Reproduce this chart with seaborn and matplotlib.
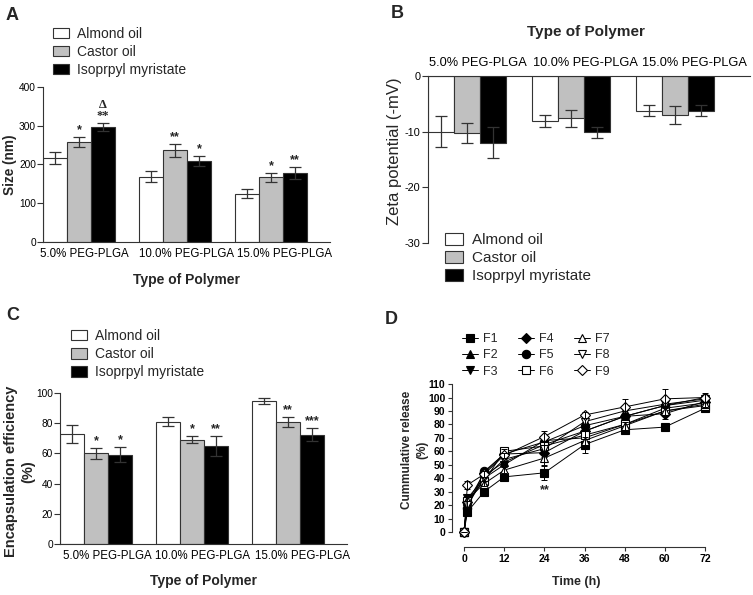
import numpy as np
import pandas as pd
import seaborn as sns
import matplotlib
matplotlib.use('Agg')
from matplotlib import pyplot as plt
from matplotlib.patches import Patch

sns.set_style('ticks')
plt.rcParams['font.family'] = ['Liberation Sans', 'DejaVu Sans']
plt.rcParams['axes.unicode_minus'] = False
plt.rcParams['axes.edgecolor'] = '#333333'
plt.rcParams['xtick.color'] = '#333333'
plt.rcParams['ytick.color'] = '#333333'
plt.rcParams['xtick.labelcolor'] = 'black'
plt.rcParams['ytick.labelcolor'] = 'black'

# ---------------- data ----------------
groups = ['5.0% PEG-PLGA', '10.0% PEG-PLGA', '15.0% PEG-PLGA']
oils = ['Almond oil', 'Castor oil', 'Isoprpyl myristate']
bar_colors = ['#ffffff', '#c0c0c0', '#000000']

# A: particle size (nm)
size_almond = [217, 168, 125]
size_castor = [258, 237, 167]
size_ipm = [297, 208, 178]
size_almond_sd = [15, 14, 11]
size_castor_sd = [14, 17, 11]
size_ipm_sd = [11, 13, 15]
size_marks = [['', '', ''], ['*', '**', '*'], ['\u0394\n**', '*', '**']]

# B: zeta potential (-mV)
zeta_almond = [-10.0, -8.1, -6.2]
zeta_castor = [-10.2, -7.6, -7.0]
zeta_ipm = [-12.0, -10.1, -6.2]
zeta_almond_sd = [2.8, 1.1, 1.0]
zeta_castor_sd = [1.8, 1.5, 1.6]
zeta_ipm_sd = [2.8, 1.0, 1.0]

# C: encapsulation efficiency (%)
ee_almond = [73, 81, 94.5]
ee_castor = [60, 69, 81]
ee_ipm = [59, 65, 72.5]
ee_almond_sd = [6, 3, 2]
ee_castor_sd = [3.8, 2.4, 3.4]
ee_ipm_sd = [5, 6.4, 4.6]
ee_marks = [['', '', ''], ['*', '*', '**'], ['*', '**', '***']]

# D: cumulative release (%)
time_h = [0, 1, 6, 12, 24, 36, 48, 60, 72]
F1 = [0, 15, 30, 41, 44, 65, 76, 78, 92]
F2 = [0, 20, 42, 52, 65, 75, 86, 94, 98]
F3 = [0, 25, 40, 50, 68, 70, 80, 92, 96]
F4 = [0, 22, 44, 58, 59, 75, 86, 88, 97]
F5 = [0, 18, 45, 58, 67, 79, 86, 94, 100]
F6 = [0, 23, 38, 60, 64, 72, 80, 90, 94]
F7 = [0, 24, 36, 46, 55, 68, 79, 90, 95]
F8 = [0, 20, 40, 54, 62, 82, 90, 95, 99]
F9 = [0, 35, 43, 57, 71, 87, 93, 99, 100]
F1_sd = [0, 2, 2, 2, 5, 6, 2, 2, 2]
F2_sd = [0, 3, 2, 2, 3, 3, 2, 2, 2]
F3_sd = [0, 3, 2, 2, 3, 3, 2, 2, 2]
F4_sd = [0, 3, 2, 2, 3, 3, 3, 4, 2]
F5_sd = [0, 3, 2, 2, 3, 3, 2, 2, 2]
F6_sd = [0, 3, 2, 2, 3, 3, 2, 2, 2]
F7_sd = [0, 3, 2, 2, 5, 3, 3, 3, 2]
F8_sd = [0, 3, 2, 2, 3, 3, 2, 2, 2]
F9_sd = [0, 3, 2, 2, 4, 2, 6, 7, 3]
f_names = ['F1', 'F2', 'F3', 'F4', 'F5', 'F6', 'F7', 'F8', 'F9']
f_markers = ['s', '^', 'v', 'D', 'o', 's', '^', 'v', 'D']
f_faces = ['black'] * 5 + ['white'] * 4

EDGE = '#333333'


def make_frame(vals):
    rows = []
    for oil, v in zip(oils, vals):
        for g, x in zip(groups, v):
            rows.append({'Polymer': g, 'Oil': oil, 'value': x})
    return pd.DataFrame(rows)


def bar_panel(ax, means, sds, label_shift, marks=None, mark_off=0):
    df = make_frame(means)
    sns.barplot(data=df, x='Polymer', y='value', hue='Oil', order=groups, hue_order=oils,
                palette=bar_colors, saturation=1, edgecolor=EDGE, linewidth=0.8,
                width=0.75, errorbar=None, legend=False, ax=ax)
    bar_sets = list(ax.containers)  # one BarContainer per oil
    for i, cont in enumerate(bar_sets):
        xs = [b.get_x() + b.get_width() / 2 for b in cont]
        ax.errorbar(xs, means[i], yerr=sds[i], fmt='none', ecolor=EDGE, elinewidth=0.9,
                    capsize=4, capthick=0.9, zorder=3)
        if marks is not None:
            for x, m, s, lab in zip(xs, means[i], sds[i], marks[i]):
                if lab:
                    ax.text(x, m + s + mark_off, lab, ha='center', va='bottom', fontsize=9,
                            fontweight='bold', linespacing=0.9,
                            family=['Liberation Serif', 'DejaVu Serif'] if '\u0394' in lab else None)
    ax.set_xlabel('')
    ax.set_ylabel('')
    # group names sit a little right of the group centres in the original
    ax.set_xticks(np.arange(len(groups)) + np.array(label_shift), groups)


def bar_legend(ax, x, y, size, spacing=0.28):
    handles = [Patch(facecolor=c, edgecolor=EDGE, linewidth=0.8) for c in bar_colors]
    ax.legend(handles, oils, loc='upper left', bbox_to_anchor=(x, y),
              bbox_transform=fig.transFigure, frameon=False, fontsize=size,
              handlelength=1.15, handleheight=0.8, handletextpad=0.6,
              labelspacing=spacing, borderpad=0, borderaxespad=0)


fig = plt.figure(figsize=(7.53, 5.95), dpi=100)

# ---------------- A ----------------
axA = fig.add_axes([43 / 753, 1 - 242 / 595, 287 / 753, 155 / 595])
bar_panel(axA, [size_almond, size_castor, size_ipm],
          [size_almond_sd, size_castor_sd, size_ipm_sd], [0.06, 0.115, 0.145], size_marks, 2)
axA.set_ylim(0, 400)
axA.set_yticks([0, 100, 200, 300, 400])
axA.set_xlim(-0.375, 2.615)
sns.despine(ax=axA)
axA.tick_params(axis='x', length=0, pad=4.5, labelsize=8.3)
axA.tick_params(axis='y', length=4, pad=1, labelsize=7.3)
axA.set_ylabel('Size (nm)', fontsize=9.8, fontweight='bold')
axA.yaxis.set_label_coords(-0.09, 0.5)
axA.set_xlabel('Type of Polymer', fontsize=10, fontweight='bold')
axA.xaxis.set_label_coords(0.5, -0.2)
bar_legend(axA, 53 / 753, 1 - 27 / 595, 10)

# ---------------- B ----------------
axB = fig.add_axes([428 / 753, 1 - 243 / 595, 322 / 753, 167 / 595])
bar_panel(axB, [zeta_almond, zeta_castor, zeta_ipm],
          [zeta_almond_sd, zeta_castor_sd, zeta_ipm_sd], [0.105, 0.135, 0.19])
axB.set_ylim(-30, 0)
axB.set_yticks([0, -10, -20, -30])
axB.set_xlim(-0.375, 2.72)
axB.xaxis.tick_top()
axB.spines['right'].set_visible(False)
axB.spines['bottom'].set_visible(False)
axB.tick_params(axis='x', length=0, pad=5, labelsize=9.2)
axB.tick_params(axis='y', length=4, pad=1.5, labelsize=7.8)
axB.set_ylabel('Zeta potential (-mV)', fontsize=12)
axB.yaxis.set_label_coords(-0.08, 0.55)
axB.text(0.49, 1.263, 'Type of Polymer', transform=axB.transAxes, ha='center', va='center',
         fontsize=11, fontweight='bold')
bar_legend(axB, 445 / 753, 1 - 233 / 595, 11, 0.26)

# ---------------- C ----------------
axC = fig.add_axes([60 / 753, 1 - 544 / 595, 287 / 753, 151 / 595])
bar_panel(axC, [ee_almond, ee_castor, ee_ipm],
          [ee_almond_sd, ee_castor_sd, ee_ipm_sd], [0.115, 0.105, 0.155], ee_marks, 0.5)
axC.set_ylim(0, 100)
axC.set_yticks([0, 20, 40, 60, 80, 100])
axC.set_xlim(-0.375, 2.615)
sns.despine(ax=axC)
axC.tick_params(axis='x', length=0, pad=4.5, labelsize=8.3)
axC.tick_params(axis='y', length=4, pad=1, labelsize=7.3)
axC.set_ylabel('Encapsulation efficiency\n(%)', fontsize=10.5, fontweight='bold', linespacing=1.3)
axC.yaxis.set_label_coords(-0.087, 0.48)
axC.set_xlabel('Type of Polymer', fontsize=10, fontweight='bold')
axC.xaxis.set_label_coords(0.5, -0.2)
bar_legend(axC, 71 / 753, 1 - 329 / 595, 10, 0.3)

# ---------------- D ----------------
axD = fig.add_axes([0.6096, 0.1013, 0.3311, 0.2555])
series = [F1, F2, F3, F4, F5, F6, F7, F8, F9]
series_sd = [F1_sd, F2_sd, F3_sd, F4_sd, F5_sd, F6_sd, F7_sd, F8_sd, F9_sd]
for name, vals, sd, m, fc in zip(f_names, series, series_sd, f_markers, f_faces):
    ms = 5.2 if m in ('s', 'D') else 6
    sns.lineplot(x=time_h, y=vals, marker=m, color='black', markerfacecolor=fc,
                 markeredgecolor='black', markeredgewidth=0.8, markersize=ms,
                 linewidth=0.7, label=name, clip_on=False, ax=axD)
    axD.errorbar(time_h, vals, yerr=sd, fmt='none', ecolor='black', elinewidth=0.7,
                 capsize=2.5, capthick=0.7, clip_on=False)
axD.text(24, F1[4] - F1_sd[4] - 8, '**', ha='center', va='center', fontsize=9, fontweight='bold')
axD.set_xlim(-1.5, 73)
axD.set_ylim(-2, 111)
axD.set_xticks([0, 12, 24, 36, 48, 60, 72])
axD.set_yticks(np.arange(0, 111, 10))
sns.despine(ax=axD)
axD.spines['left'].set_bounds(0, 110)
axD.spines['bottom'].set_bounds(0, 72)
axD.spines['left'].set_position(('outward', 5))
axD.spines['bottom'].set_position(('outward', 9))
axD.tick_params(length=3, pad=2, labelsize=7.5)
for lab in axD.get_xticklabels() + axD.get_yticklabels():
    lab.set_fontweight('bold')
axD.set_ylabel('Cummulative release\n(%)', fontsize=8.5, fontweight='bold', linespacing=1.3)
axD.yaxis.set_label_coords(-0.124, 0.56)
axD.set_xlabel('Time (h)', fontsize=9, fontweight='bold')
axD.xaxis.set_label_coords(0.47, -0.27)
axD.legend(loc='upper left', bbox_to_anchor=(462 / 753, 1 - 333 / 595),
           bbox_transform=fig.transFigure, ncol=3, frameon=False, fontsize=9,
           handlelength=1.3, handletextpad=0.4, columnspacing=1.6, labelspacing=0.35,
           borderpad=0, borderaxespad=0)

# panel letters
for letter, x, y in [('A', 6, 15), ('B', 391, 13), ('C', 6, 315), ('D', 385, 320)]:
    fig.text(x / 753, 1 - y / 595, letter, fontsize=13, fontweight='bold', va='center')

plt.savefig('out.png', dpi=100)
